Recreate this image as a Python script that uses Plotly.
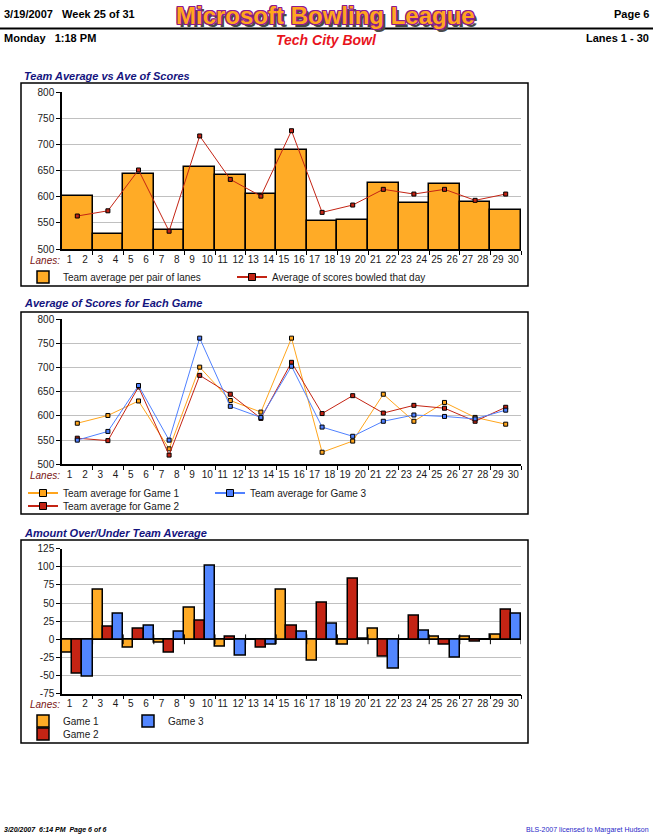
import plotly.graph_objects as go

W, H = 653, 835

# ---------------- data ----------------
lanes = list(range(1, 31))
pairs = list(range(1, 16))
team_avg = [601, 528, 643, 536, 656, 641, 605, 690, 553, 555, 627, 588, 624, 589, 574]
day_avg = [563, 573, 651, 534, 716, 633, 601, 726, 570, 584, 614, 605, 614, 593, 605]

game1_avg = [585, 601, 631, 532, 701, 632, 608, 761, 525, 548, 645, 589, 628, 597, 583]
game2_avg = [554, 549, 660, 519, 684, 645, 595, 711, 605, 642, 606, 622, 616, 589, 618]
game3_avg = [550, 568, 663, 550, 761, 620, 597, 703, 577, 558, 589, 602, 599, 594, 612]

game1_diff = [-18, 69, -11, -5, 43, -10, 0, 69, -29, -7, 14, 0, 3, 3, 7]
game2_diff = [-47, 18, 14, -18, 26, 3, -11, 19, 50, 84, -24, 32, -8, -3, 41]
game3_diff = [-51, 36, 19, 10, 102, -22, -7, 10, 21, 1, -40, 12, -25, 0, 36]

y1_ticks = [500, 550, 600, 650, 700, 750, 800]
y3_ticks = [-75, -50, -25, 0, 25, 50, 75, 100, 125]

# ---------------- helpers ----------------
FONT = "Liberation Sans, Arial, sans-serif"
ORANGE = "#FFAB26"
RED = "#C42414"
BLUE = "#5286FF"
LORANGE = "#FFA51C"
LBLUE = "#4F80FF"


def px(x):
    return x / W


def py(y):
    return 1 - y / H


pair_x = [2 * p - 0.5 for p in pairs]          # centre of each lane pair
boundaries = [2 * p + 0.5 for p in pairs]      # pair boundaries
xdom = [px(62), px(521)]

fig = go.Figure()


def legend_line(name, col, lg, xa, ya):
    # legend-only entry (thicker line / bigger marker, like the original legend)
    fig.add_trace(go.Scatter(x=[None], y=[None], name=name, mode="lines+markers",
                             line=dict(color=col, width=2),
                             marker=dict(symbol="square", size=7, color=col, line=dict(color="black", width=1)),
                             xaxis=xa, yaxis=ya, legend=lg, hoverinfo="skip"))


# chart 1
fig.add_trace(go.Bar(x=pair_x, y=team_avg, name="Team average per pair of lanes",
                     marker=dict(color=ORANGE, line=dict(color="black", width=1.5)),
                     xaxis="x", yaxis="y", legend="legend"))
fig.add_trace(go.Scatter(x=pair_x, y=day_avg, name="Average of scores bowled that day",
                         mode="lines+markers", line=dict(color=RED, width=1), showlegend=False,
                         marker=dict(symbol="square", size=4, color=RED, line=dict(color="black", width=1)),
                         xaxis="x", yaxis="y"))
legend_line("Average of scores bowled that day", RED, "legend2", "x", "y")

# chart 2
for vals, name, col, lg in [(game1_avg, "Team average for Game 1", LORANGE, "legend3"),
                            (game2_avg, "Team average for Game 2", RED, "legend4"),
                            (game3_avg, "Team average for Game 3", LBLUE, "legend5")]:
    fig.add_trace(go.Scatter(x=pair_x, y=vals, name=name, mode="lines+markers",
                             line=dict(color=col, width=1), showlegend=False,
                             marker=dict(symbol="square", size=4, color=col, line=dict(color="black", width=1)),
                             xaxis="x2", yaxis="y2"))
    legend_line(name, col, lg, "x2", "y2")

# chart 3
for vals, name, col, lg in [(game1_diff, "Game 1", ORANGE, "legend6"),
                            (game2_diff, "Game 2", RED, "legend7"),
                            (game3_diff, "Game 3", BLUE, "legend8")]:
    fig.add_trace(go.Bar(x=pair_x, y=vals, name=name,
                         marker=dict(color=col, line=dict(color="black", width=1.5)),
                         xaxis="x3", yaxis="y3", legend=lg))
fig.add_trace(go.Scatter(x=boundaries, y=[0] * len(boundaries), mode="markers", showlegend=False,
                         marker=dict(symbol="line-ns-open", size=7, color="black",
                                     line=dict(color="black", width=1)),
                         hoverinfo="skip", xaxis="x3", yaxis="y3"))

tickfont = dict(family=FONT, size=10, color="#1a1a1a")


def xaxis(anchor):
    return dict(domain=xdom, range=[0.5, 30.5], anchor=anchor,
                tickvals=lanes, ticktext=[str(l) for l in lanes], ticks="",
                tickfont=tickfont, showline=True, linecolor="black", linewidth=1.5,
                showgrid=False, zeroline=False, automargin=False,
                minor=dict(tickvals=boundaries, ticks="outside", ticklen=4,
                           tickcolor="black", tickwidth=1, showgrid=False))


def yaxis(anchor, top, bottom, rng, vals):
    return dict(domain=[py(bottom), py(top)], range=rng, anchor=anchor,
                tickvals=vals, ticktext=[str(v) for v in vals],
                ticks="outside", ticklen=4, tickcolor="black", automargin=False,
                tickfont=tickfont, showline=True, linecolor="black", linewidth=1.5,
                showgrid=True, gridcolor="#C0C0C0", gridwidth=1, zeroline=False)


y3 = yaxis("x3", 548.7, 693.7, [-75, 125], y3_ticks)
y3.update(zeroline=True, zerolinecolor="black", zerolinewidth=1.5)


def legend(x, y):
    return dict(x=px(x), y=py(y), xanchor="left", yanchor="middle", orientation="h",
                bgcolor="rgba(0,0,0,0)", borderwidth=0, itemwidth=30,
                font=dict(family=FONT, size=10, color="#1a1a1a"))


ann = []


def text(x, y, s, size=11, bold=True, italic=False, color="black", xanchor="left"):
    t = s
    if bold:
        t = "<b>" + t + "</b>"
    if italic:
        t = "<i>" + t + "</i>"
    ann.append(dict(x=px(x), y=py(y), xref="paper", yref="paper", text=t, showarrow=False,
                    xanchor=xanchor, yanchor="middle",
                    font=dict(family=FONT, size=size, color=color)))


NB = "\u00a0"
text(2, 14, "3/19/2007" + NB * 3 + "Week 25 of 31")
text(651, 14, "Page 6", xanchor="right")
text(2, 38, "Monday" + NB * 3 + "1:18 PM")
text(651, 38, "Lanes 1 - 30", xanchor="right")
text(326, 40, "Tech City Bowl", size=14, italic=True, color="#E8141C", xanchor="center")

OUT = "#8E1A8E"
ann.append(dict(x=px(325), y=py(15), xref="paper", yref="paper",
                text="<b>Microsoft Bowling League</b>", showarrow=False,
                xanchor="center", yanchor="middle",
                font=dict(family=FONT, size=24, color="#FFA61E",
                          shadow=f"1px 0 0 {OUT}, -1px 0 0 {OUT}, 0 1px 0 {OUT}, 0 -1px 0 {OUT}, "
                                 f"1px 1px 0 {OUT}, -1px -1px 0 {OUT}, 1px -1px 0 {OUT}, -1px 1px 0 {OUT}, "
                                 "3px 3px 0 #4a4a4a")))

NAVY = "#14147E"
text(22, 76, "Team Average vs Ave of Scores", italic=True, color=NAVY)
text(22, 303, "Average of Scores for Each Game", italic=True, color=NAVY)
text(22, 533, "Amount Over/Under Team Average", italic=True, color=NAVY)

MAROON = "#7A1414"
text(62, 260, "Lanes:", size=10, bold=False, italic=True, color=MAROON, xanchor="right")
text(62, 476, "Lanes:", size=10, bold=False, italic=True, color=MAROON, xanchor="right")
text(62, 704, "Lanes:", size=10, bold=False, italic=True, color=MAROON, xanchor="right")

text(2, 830, "3/20/2007" + NB * 2 + "6:14 PM" + NB * 2 + "Page 6 of 6", size=7, italic=True)
text(651, 830, "BLS-2007 licensed to Margaret Hudson", size=7, bold=False, color="#2828C8", xanchor="right")

shapes = [dict(type="line", xref="paper", yref="paper", x0=0, x1=1, y0=py(28.5), y1=py(28.5),
               line=dict(color="black", width=2))]
for top, bot in [(83, 286), (312, 514), (540, 743)]:
    shapes.append(dict(type="rect", xref="paper", yref="paper", x0=px(21), x1=px(528),
                       y0=py(bot), y1=py(top), line=dict(color="black", width=1.5)))

fig.update_layout(
    width=W, height=H, autosize=False,
    margin=dict(l=0, r=0, t=0, b=0, pad=0, autoexpand=False),
    paper_bgcolor="white", plot_bgcolor="white",
    font=dict(family=FONT, size=10, color="#1a1a1a"),
    barmode="group", bargap=0, bargroupgap=0,
    xaxis=xaxis("y"), yaxis=yaxis("x", 92, 249, [500, 800], y1_ticks),
    xaxis2=xaxis("y2"), yaxis2=yaxis("x2", 319.3, 464.3, [500, 800], y1_ticks),
    xaxis3=xaxis("y3"), yaxis3=y3,
    legend=legend(23, 277), legend2=legend(232, 277),
    legend3=legend(23, 493), legend4=legend(23, 506), legend5=legend(210, 493),
    legend6=legend(23, 721), legend7=legend(23, 734), legend8=legend(128, 721),
    annotations=ann, shapes=shapes,
)

fig.write_html("out.html", config={"displayModeBar": False},
               post_script="document.body.style.margin='0';document.body.style.padding='0';"
                           "document.body.style.overflow='hidden';")
